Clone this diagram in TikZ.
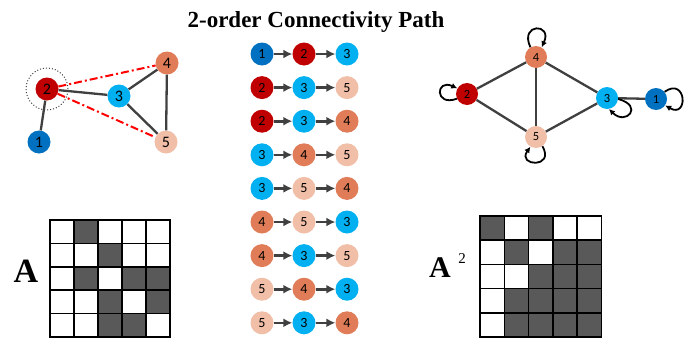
\documentclass[tikz,border=0pt]{standalone}
\usepackage{fontspec}
\setmainfont{Liberation Serif}
\newfontfamily\nodefont{Carlito}
\usetikzlibrary{arrows.meta}

\definecolor{azul}{RGB}{0,112,192}
\definecolor{rojo}{RGB}{192,0,0}
\definecolor{celeste}{RGB}{0,176,240}
\definecolor{naranja}{RGB}{224,125,88}
\definecolor{salmon}{RGB}{241,190,168}
\definecolor{gris}{RGB}{64,64,64}
\definecolor{celda}{RGB}{89,89,89}

\tikzset{
  vert/.style={circle, minimum size=23pt, inner sep=0pt, font=\nodefont\fontsize{14}{14}\selectfont},
  v1/.style={vert, fill=azul},
  v2/.style={vert, fill=rojo},
  v3/.style={vert, fill=celeste},
  v4/.style={vert, fill=naranja},
  v5/.style={vert, fill=salmon},
  grande/.style={font=\nodefont\fontsize{16}{16}\selectfont},
  chico/.style={font=\nodefont\fontsize{12.5}{12.5}\selectfont, minimum size=22pt},
  lado/.style={gris, line width=2.3pt},
  flecha/.style={gris, line width=2.6pt, -{Latex[length=9pt, width=9pt]}},
  lazo/.style={black, line width=1.8pt, -{Latex[length=6pt, width=6pt]}},
  rayas/.style={red, line width=2pt, dash pattern=on 8pt off 3pt on 2pt off 3pt}
}

\begin{document}
\begin{tikzpicture}[x=1pt, y=1pt]
\useasboundingbox (0,0) rectangle (700,-340);

% Titulo
\node (titulo) [anchor=base] at (316,-27) {\fontsize{23}{23}\selectfont\bfseries 2-order Connectivity Path};

% Grafo de la izquierda
\node[v1, grande] (l1) at (39,-142) {1};
\node[v2, grande] (l2) at (47,-89) {2};
\node[v3, grande] (l3) at (119,-96) {3};
\node[v4, grande] (l4) at (167,-63) {4};
\node[v5, grande] (l5) at (166,-142) {5};
\draw[lado] (l1) -- (l2);
\draw[lado] (l2) -- (l3);
\draw[lado] (l3) -- (l4);
\draw[lado] (l3) -- (l5);
\draw[lado] (l4) -- (l5);
% caminos de orden 2 desde el nodo 2
\draw[rayas] (l2) -- (l4);
\draw[rayas] (l2) -- (l5);
\draw[gris, dotted, line width=1pt] (l2) circle (21);

% Caminos de longitud 2 (columna central)
\foreach \a/\b/\c [count=\i] in {1/2/3, 2/3/5, 2/3/4, 3/4/5, 3/5/4, 4/5/3, 4/3/5, 5/4/3, 5/3/4}{
  \node[v\a] (m\i a) at (262,{-54-(\i-1)*33.6}) {\a};
  \node[v\b] (m\i b) at (304,{-54-(\i-1)*33.6}) {\b};
  \node[v\c] (m\i c) at (347,{-54-(\i-1)*33.6}) {\c};
  \draw[flecha] (m\i a) -- (m\i b);
  \draw[flecha] (m\i b) -- (m\i c);
}

% Grafo de la derecha, con lazos
\node[v1, chico] (r1) at (656,-99) {1};
\node[v2, chico] (r2) at (467,-94) {2};
\node[v3, chico] (r3) at (607,-98) {3};
\node[v4, chico] (r4) at (536,-57) {4};
\node[v5, chico] (r5) at (536,-137) {5};
\draw[lado] (r2) -- (r4);
\draw[lado] (r2) -- (r5);
\draw[lado] (r4) -- (r5);
\draw[lado] (r4) -- (r3);
\draw[lado] (r5) -- (r3);
\draw[lado] (r3) -- (r1);
\draw[lazo] (r4.120) .. controls +(115:27) and +(65:27) .. (r4.60);
\draw[lazo] (r2.205) .. controls +(200:24) and +(155:24) .. (r2.150);
\draw[lazo] (r3.-5) .. controls +(-15:27) and +(-45:24) .. (r3.-80);
\draw[lazo] (r1.40) .. controls +(35:27) and +(-30:27) .. (r1.-35);
\draw[lazo] (r5.-55) .. controls +(-60:26) and +(-125:24) .. (r5.-120);

% Matriz A
\node (etiqA) at (26,-271) {\fontsize{34}{34}\selectfont\bfseries A};
\foreach \fila [count=\i] in {{0,1,0,0,0},{0,0,1,0,0},{0,1,0,1,1},{0,0,1,0,1},{0,0,1,1,0}}
  \foreach \v [count=\j] in \fila
    \draw[line width=1.6pt, fill=celda!\v00!white] ({50+(\j-1)*24},{-220-(\i-1)*23.4}) rectangle ++(24,-23.4);

% Matriz A al cuadrado
\node (etiqB) at (440,-268) {\fontsize{30}{30}\selectfont\bfseries A};
\node (expo) at (462,-259) {\fontsize{15}{15}\selectfont 2};
\foreach \fila [count=\i] in {{1,0,1,0,0},{0,1,0,1,1},{0,0,1,1,1},{0,1,1,1,1},{0,1,1,1,1}}
  \foreach \v [count=\j] in \fila
    \draw[line width=1.6pt, fill=celda!\v00!white] ({480+(\j-1)*24.3},{-216-(\i-1)*24.2}) rectangle ++(24.3,-24.2);
\end{tikzpicture}
\end{document}
